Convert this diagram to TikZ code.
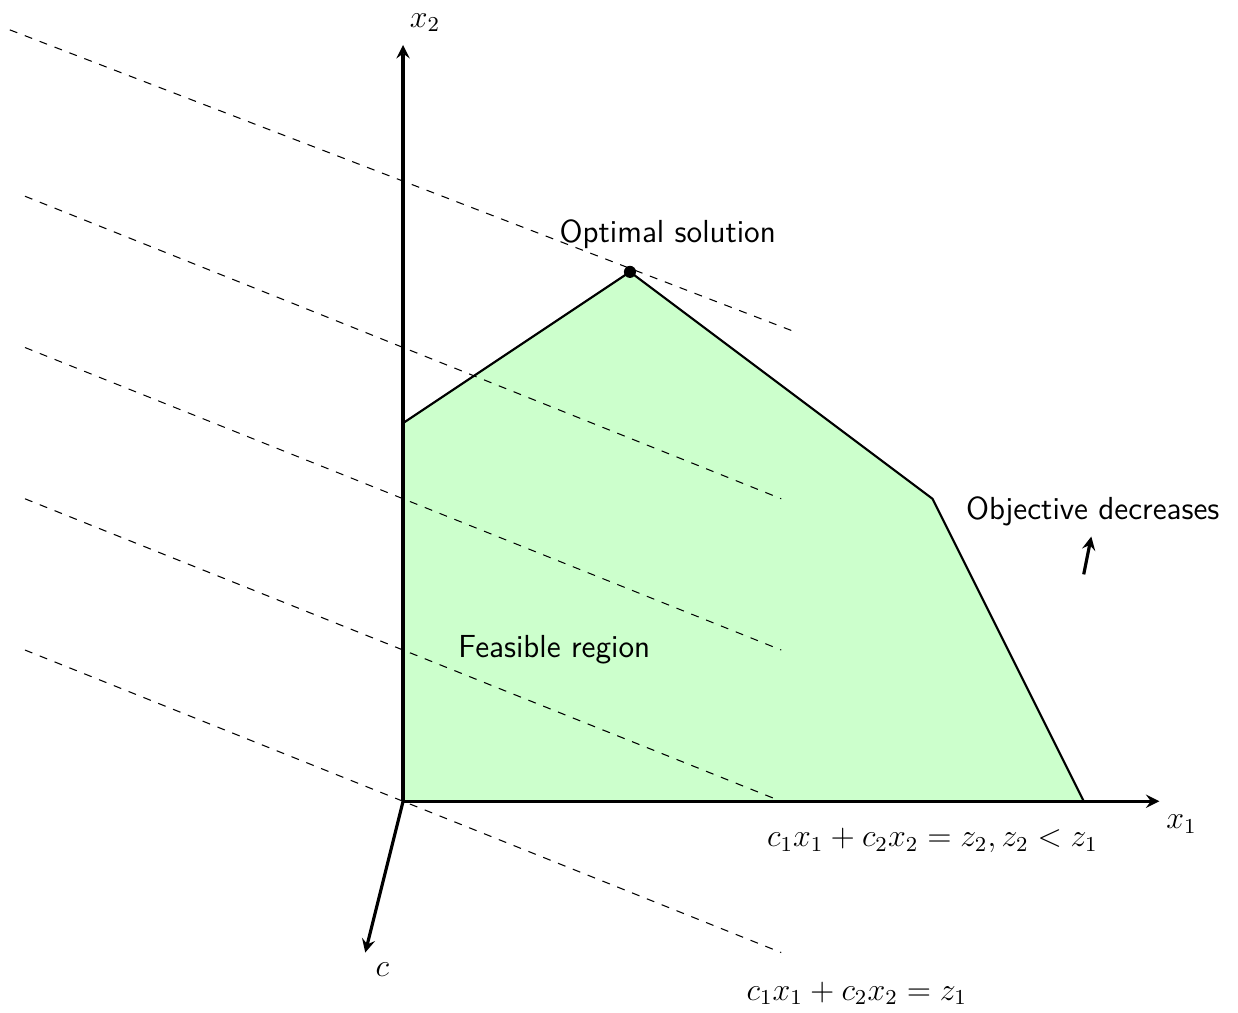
\documentclass[tikz,border=0pt]{standalone}
\usetikzlibrary{arrows.meta}
\begin{document}
\begin{tikzpicture}[
  axis/.style={very thick,-stealth},
  edge/.style={thick},
  level/.style={dashed,thin},
  lab/.style={font=\sffamily\large},
  mlab/.style={font=\large}
]
\useasboundingbox (-5.33,-2.79) rectangle (11.04,10.595);
% coordinates
\coordinate (O) at (0,0);
\coordinate (A) at (0,5);
\coordinate (B) at (3,7);
\coordinate (C) at (7,4);
\coordinate (D) at (9,0);
\coordinate (X1) at (10,0);
\coordinate (X2) at (0,10);
\coordinate (Cv) at (-0.5,-2);
% level lines
\coordinate (l0a) at (-5.2,10.2); \coordinate (l0b) at (5.2,6.2);
\coordinate (l1a) at (-5,8); \coordinate (l1b) at (5,4);
\coordinate (l2a) at (-5,6); \coordinate (l2b) at (5,2);
\coordinate (l3a) at (-5,4); \coordinate (l3b) at (5,0);
\coordinate (l4a) at (-5,2); \coordinate (l4b) at (5,-2);
% region
\fill[green!20] (O) -- (A) -- (B) -- (C) -- (D) -- cycle;
\draw[edge] (O) -- (A) -- (B) -- (C) -- (D) -- cycle;
% level lines
\draw[level] (l0a) -- (l0b);
\draw[level] (l1a) -- (l1b);
\draw[level] (l2a) -- (l2b);
\draw[level] (l3a) -- (l3b);
\draw[level] (l4a) -- (l4b);
% axes
\draw[axis] (O) -- (X1) node[mlab,below right,inner sep=2pt,yshift=-2.5pt] (x1lab) {$x_1$};
\draw[axis] (O) -- (X2) node[mlab,above right,inner sep=2pt,yshift=2.3pt] (x2lab) {$x_2$};
\draw[axis] (O) -- (Cv) node[mlab,below right] (clab) {$c$};
% optimum
\fill (B) circle (0.08);
\node[lab] (opt) at (3.5,7.5) {Optimal solution};
\node[lab] (feas) at (2,2) {Feasible region};
\node[lab] (obj) at (9.12,3.84) {Objective decreases};
\coordinate (oa) at (9,3);
\coordinate (ob) at (9.1,3.5);
\draw[axis] (oa) -- (ob);
\node[mlab] (z2) at (7,-0.52) {$c_1x_1+c_2x_2=z_2, z_2<z_1$};
\node[mlab] (z1) at (6,-2.54) {$c_1x_1+c_2x_2=z_1$};
\end{tikzpicture}
\end{document}
